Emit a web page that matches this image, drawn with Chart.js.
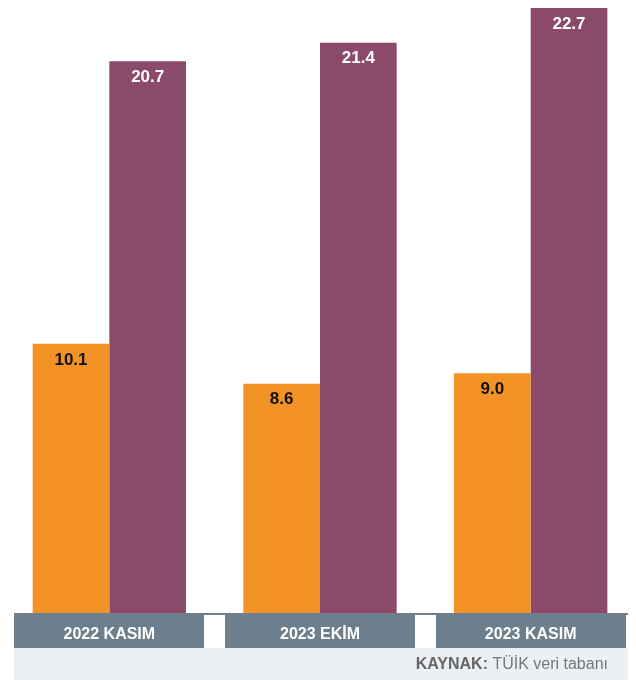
<!DOCTYPE html>
<html>
<head>
<meta charset="utf-8">
<script src="https://cdn.jsdelivr.net/npm/chart.js@4"></script>
<style>
  html, body { margin: 0; padding: 0; background: #ffffff; }
  #wrap { width: 636px; height: 680px; position: relative; }
</style>
</head>
<body>
<div id="wrap"><canvas id="c" width="636" height="680"></canvas></div>
<script>
const categories = ["2022 KASIM", "2023 EKİM", "2023 KASIM"];
const seriesA = [10.1, 8.6, 9.0];
const seriesB = [20.7, 21.4, 22.7];
const seriesNames = ["Seri 1", "Seri 2"];
const sourceBold = "KAYNAK:";
const sourceText = " TÜİK veri tabanı";

const ORANGE = "#F39325";
const PURPLE = "#8C4A6A";
const GREY = "#6D7F8C";
const LIGHT = "#EDF0F3";
const FONT = "'Liberation Sans', Arial, sans-serif";

const decor = {
  id: "decor",
  afterDraw(chart) {
    const ctx = chart.ctx;
    const x = chart.scales.x;
    ctx.save();
    // value labels
    chart.data.datasets.forEach((ds, di) => {
      const meta = chart.getDatasetMeta(di);
      meta.data.forEach((bar, i) => {
        ctx.font = "bold 17px " + FONT;
        ctx.textAlign = "center";
        ctx.textBaseline = "middle";
        ctx.fillStyle = di === 0 ? "#111111" : "#ffffff";
        ctx.fillText(ds.data[i].toFixed(1), bar.x, bar.y + 16);
      });
    });
    const bottom = chart.chartArea.bottom;
    // thin strip
    ctx.fillStyle = GREY;
    ctx.fillRect(14, bottom, 614, 2);
    // category boxes
    categories.forEach((c, i) => {
      const cx = x.getPixelForValue(i);
      ctx.fillStyle = GREY;
      ctx.fillRect(Math.round(cx - 95), bottom, 190, 35);
      ctx.fillStyle = "#ffffff";
      ctx.font = "bold 16px " + FONT;
      ctx.textAlign = "center";
      ctx.textBaseline = "alphabetic";
      ctx.fillText(c, cx, bottom + 26);
    });
    // source box
    ctx.fillStyle = LIGHT;
    ctx.fillRect(14, bottom + 35, 614, 680 - bottom - 35);
    ctx.textAlign = "left";
    ctx.textBaseline = "alphabetic";
    ctx.font = "16px " + FONT;
    const w2 = ctx.measureText(sourceText).width;
    ctx.font = "bold 16px " + FONT;
    const w1 = ctx.measureText(sourceBold).width;
    const right = 608;
    const start = right - w1 - w2;
    ctx.fillStyle = "#666666";
    ctx.fillText(sourceBold, start, 669);
    ctx.font = "16px " + FONT;
    ctx.fillStyle = "#777777";
    ctx.fillText(sourceText, start + w1, 669);
    ctx.restore();
  }
};

new Chart(document.getElementById("c"), {
  type: "bar",
  data: {
    labels: categories,
    datasets: [
      { label: seriesNames[0], data: seriesA, backgroundColor: ORANGE, borderWidth: 0 },
      { label: seriesNames[1], data: seriesB, backgroundColor: PURPLE, borderWidth: 0 }
    ]
  },
  options: {
    responsive: false,
    animation: false,
    layout: { padding: { left: 4, right: -1, top: 0, bottom: 67 } },
    plugins: { legend: { display: false }, tooltip: { enabled: false } },
    datasets: { bar: { categoryPercentage: 0.728, barPercentage: 1.0 } },
    scales: {
      x: { display: false, grid: { display: false } },
      y: { display: false, min: 0, max: 23, grid: { display: false } }
    }
  },
  plugins: [decor]
});
</script>
</body>
</html>
